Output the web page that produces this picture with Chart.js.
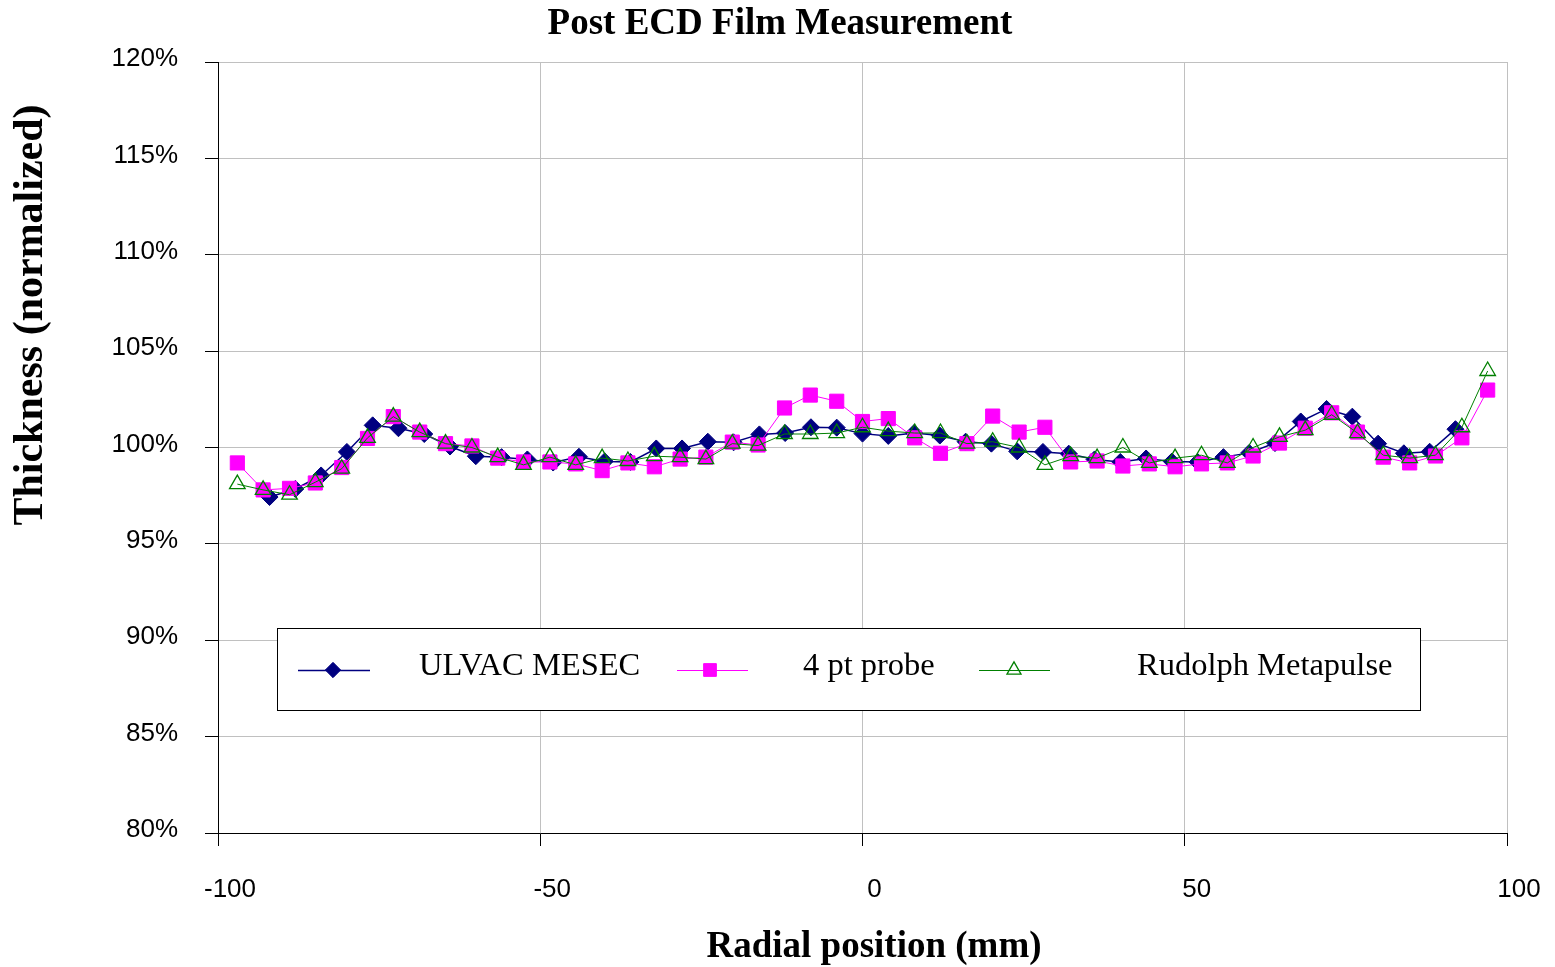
<!DOCTYPE html>
<html>
<head>
<meta charset="utf-8">
<script src="https://cdn.jsdelivr.net/npm/chart.js@4.4.1/dist/chart.umd.min.js"></script>
<style>
html,body{margin:0;padding:0;background:#fff;}
#wrap{width:1555px;height:967px;}
</style>
</head>
<body>
<div id="wrap"><canvas id="c" width="1555" height="967"></canvas></div>
<script>
// ---- data ----
const chartTitle = "Post ECD Film Measurement";
const xTitle = "Radial position (mm)";
const yTitle = "Thickness (normalized)";
const seriesNames = ["ULVAC MESEC", "4 pt probe", "Rudolph Metapulse"];

const ulvacX = [-92,-88,-84,-80,-76,-72,-68,-64,-60,-56,-52,-48,-44,-40,-36,-32,-28,-24,-20,-16,-12,-8,-4,0,4,8,12,16,20,24,28,32,36,40,44,48,52,56,60,64,68,72,76,80,84,88,92];
const ulvacY = [97.43,97.85,98.55,99.77,101.15,101.0,100.7,100.05,99.55,99.5,99.38,99.22,99.52,99.28,99.25,99.95,99.95,100.3,100.27,100.68,100.75,101.05,101.03,100.72,100.6,100.75,100.62,100.3,100.2,99.8,99.77,99.68,99.38,99.25,99.43,99.27,99.25,99.5,99.72,100.23,101.35,102.0,101.6,100.2,99.7,99.78,100.95];

const probeX = [-97,-93,-88.9,-84.9,-80.8,-76.8,-72.8,-68.7,-64.7,-60.6,-56.6,-52.6,-48.5,-44.5,-40.4,-36.4,-32.3,-28.3,-24.3,-20.2,-16.2,-12.1,-8.1,-4,0,4,8.1,12.1,16.2,20.2,24.3,28.3,32.3,36.4,40.4,44.5,48.5,52.6,56.6,60.6,64.7,68.7,72.8,76.8,80.8,84.9,88.9,93,97];
const probeY = [99.2,97.8,97.88,98.16,98.96,100.47,101.6,100.8,100.2,100.08,99.45,99.25,99.25,99.15,98.8,99.2,99.0,99.4,99.5,100.28,100.13,102.05,102.72,102.4,101.35,101.5,100.5,99.7,100.2,101.63,100.8,101.05,99.25,99.3,99.04,99.15,99.0,99.15,99.2,99.56,100.23,101.0,101.8,100.8,99.5,99.2,99.56,100.5,102.98];

const rudolphX = probeX;
const rudolphY = [98.1,97.8,97.55,98.2,98.9,100.5,101.6,100.8,100.2,100.0,99.5,99.1,99.5,99.1,99.45,99.3,99.55,99.5,99.4,100.2,100.1,100.7,100.7,100.75,101.05,100.85,100.75,100.75,100.2,100.3,100.0,99.1,99.55,99.45,100.0,99.2,99.45,99.6,99.2,100.0,100.55,100.9,101.7,100.75,99.6,99.45,99.6,101.05,103.97];

const xTicks = [-100,-50,0,50,100];
const yTicks = [80,85,90,95,100,105,110,115,120];

function pts(xs, ys){ return xs.map((x,i)=>({x:x, y:ys[i]})); }

const styles = [
  {color:'#000080', fill:'#000080', pointStyle:'rectRot', radius:8.5, lineWidth:1.5, pbw:1},
  {color:'#FF00FF', fill:'#FF00FF', pointStyle:'rect', radius:10, lineWidth:1, pbw:1},
  {color:'#008000', fill:'rgba(0,0,0,0)', pointStyle:'triangle', radius:9, lineWidth:1, pbw:1.3}
];

const overlay = {
  id:'overlay',
  afterDraw(chart){
    const ctx = chart.ctx;
    ctx.save();
    ctx.fillStyle = '#000';
    // chart title
    ctx.font = 'bold 37px "Liberation Serif"';
    ctx.textAlign = 'center'; ctx.textBaseline = 'middle';
    ctx.fillText(chartTitle, 780, 24);
    // x title
    ctx.font = 'bold 37px "Liberation Serif"';
    ctx.fillText(xTitle, 874, 947);
    // y title
    ctx.save();
    ctx.translate(31, 315);
    ctx.rotate(-Math.PI/2);
    ctx.font = 'bold 42px "Liberation Serif"';
    ctx.fillText(yTitle, 0, 0);
    ctx.restore();
    // legend
    const lx = 277.5, ly = 628.5, lw = 1143, lh = 82;
    ctx.fillStyle = '#fff';
    ctx.fillRect(lx, ly, lw, lh);
    ctx.strokeStyle = '#000'; ctx.lineWidth = 1;
    ctx.strokeRect(lx, ly, lw, lh);
    const items = [
      {x0:298, x1:370, mx:333, tx:419},
      {x0:677, x1:748, mx:710, tx:803},
      {x0:979, x1:1050, mx:1014, tx:1137}
    ];
    items.forEach((it, i) => {
      const s = styles[i];
      ctx.strokeStyle = s.color; ctx.lineWidth = s.lineWidth;
      ctx.beginPath(); ctx.moveTo(it.x0, 670.5); ctx.lineTo(it.x1, 670.5); ctx.stroke();
      ctx.fillStyle = s.fill; ctx.strokeStyle = s.color; ctx.lineWidth = s.pbw;
      Chart.helpers.drawPoint(ctx, {pointStyle:s.pointStyle, radius: s.radius*0.9, rotation:0, borderWidth:s.pbw}, it.mx, 670);
      ctx.fillStyle = '#000';
      ctx.font = '32.5px "Liberation Serif"';
      ctx.textAlign = 'left'; ctx.textBaseline = 'middle';
      ctx.fillText(seriesNames[i], it.tx, 666);
    });
    ctx.restore();
  }
};

const datasets = [
  {data: pts(ulvacX, ulvacY), order:3},
  {data: pts(probeX, probeY), order:2},
  {data: pts(rudolphX, rudolphY), order:1}
].map((d,i)=>Object.assign(d, {
  label: seriesNames[i],
  showLine: true,
  borderColor: styles[i].color,
  borderWidth: styles[i].lineWidth,
  backgroundColor: styles[i].fill,
  pointBackgroundColor: styles[i].fill,
  pointBorderColor: styles[i].color,
  pointBorderWidth: styles[i].pbw,
  pointStyle: styles[i].pointStyle,
  pointRadius: styles[i].radius,
  pointHoverRadius: styles[i].radius,
  tension: 0
}));

new Chart(document.getElementById('c'), {
  type: 'scatter',
  data: {datasets},
  options: {
    responsive: false,
    animation: false,
    layout: {padding: {top: 62, right: 48, left: 0, bottom: 0}},
    plugins: {legend:{display:false}, title:{display:false}, tooltip:{enabled:false}},
    scales: {
      x: {
        type:'linear', min:-100, max:100,
        afterBuildTicks: s => { s.ticks = xTicks.map(v=>({value:v})); },
        afterFit: s => { s.height = 134; s.paddingLeft = 0; s.paddingRight = 0; },
        grid: {color:'#c0c0c0', lineWidth:1, tickLength:13, tickColor:'#000'},
        border: {display:true, color:'#000', width:1},
        ticks: {color:'#000', font:{family:'"Liberation Sans"', size:26}, padding:28, labelOffset:12, maxRotation:0}
      },
      y: {
        min:80, max:120,
        afterBuildTicks: s => { s.ticks = yTicks.map(v=>({value:v})); },
        afterFit: s => { s.width = 218; s.paddingTop = 0; s.paddingBottom = 0; },
        grid: {color:'#c0c0c0', lineWidth:1, tickLength:13, tickColor:'#000'},
        border: {display:true, color:'#000', width:1},
        ticks: {color:'#000', font:{family:'"Liberation Sans"', size:26}, padding:27, labelOffset:-3, callback: v => v + '%'}
      }
    }
  },
  plugins: [overlay]
});
</script>
</body>
</html>
